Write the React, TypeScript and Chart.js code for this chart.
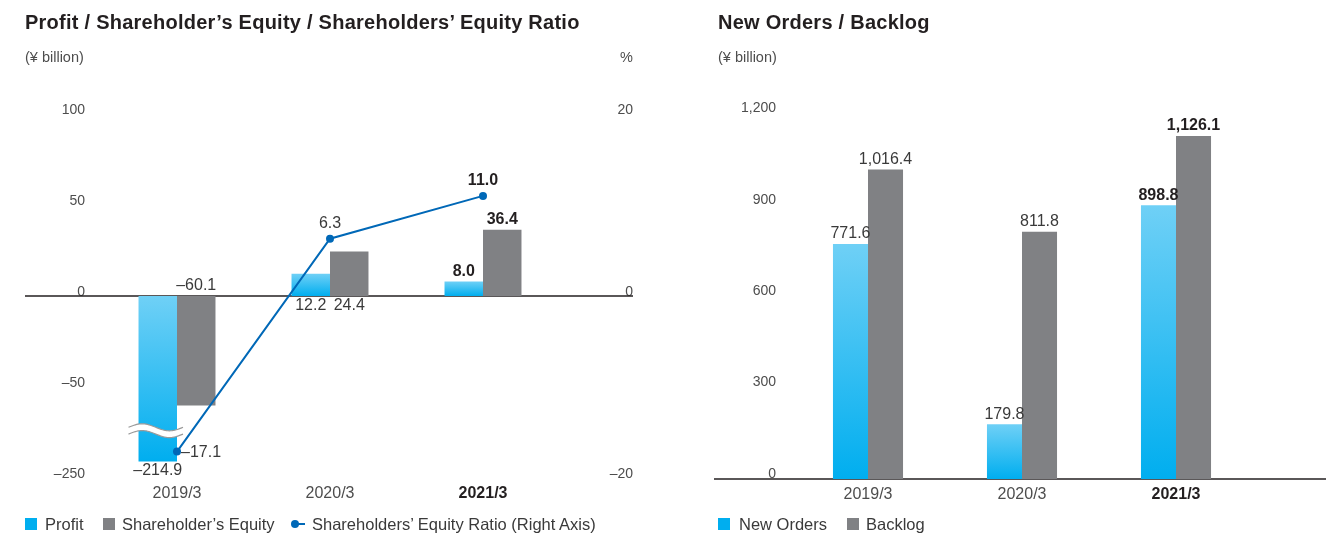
import React, { useEffect, useRef } from 'react';
import { Chart, registerables } from 'chart.js';

Chart.register(...registerables);

// ---------- data ----------
const YEARS = ['2019/3', '2020/3', '2021/3'];
const PROFIT = [-214.9, 12.2, 8.0];
const EQUITY = [-60.1, 24.4, 36.4];
const EQUITY_RATIO = [-17.1, 6.3, 11.0];
const NEW_ORDERS = [771.6, 179.8, 898.8];
const BACKLOG = [1016.4, 811.8, 1126.1];
const LEFT_TICKS = [100, 50, 0, -50, -250];
const RATIO_TICKS = [20, 0, -20];
const ORDER_TICKS = [1200, 900, 600, 300, 0];
const CURRENT_INDEX = 2;

// axis break on the left value axis: real values -250..-150 are compressed into the plotted band -100..-74
const BREAK = { realLow: -250, realHigh: -150, plotLow: -100, plotHigh: -74 };
const toPlot = (v: number) =>
  v >= BREAK.realHigh
    ? v
    : BREAK.plotLow + ((v - BREAK.realLow) * (BREAK.plotHigh - BREAK.plotLow)) / (BREAK.realHigh - BREAK.realLow);

// ---------- style ----------
const FONT = '"Liberation Sans", Arial, Helvetica, sans-serif';
const BLUE_TOP = '#6fd0f6';
const BLUE_BOTTOM = '#00aeef';
const GREY = '#808184';
const LINE = '#0068b7';
const TICK_COLOR = '#4d4d4d';
const LABEL_COLOR = '#3a3a3a';
const BOLD_COLOR = '#231f20';

const fmt = (v: number) =>
  (v < 0 ? '–' : '') + Math.abs(v).toLocaleString('en-US', { minimumFractionDigits: 1, maximumFractionDigits: 1 });
const fmtTick = (v: number) => (v < 0 ? '–' : '') + Math.abs(v).toLocaleString('en-US');

function blueGradient(c: any) {
  const chart = c.chart;
  if (!chart.chartArea || c.type !== 'data') return BLUE_BOTTOM;
  const yScale = chart.scales[c.dataset.yAxisID || 'y'];
  const v = c.raw as number;
  const y1 = yScale.getPixelForValue(v);
  const y0 = yScale.getPixelForValue(0);
  const top = Math.min(y0, y1);
  const bot = Math.max(y0, y1);
  if (!isFinite(top) || !isFinite(bot) || bot - top < 1) return BLUE_BOTTOM;
  const g = chart.ctx.createLinearGradient(0, top, 0, bot);
  g.addColorStop(0, BLUE_TOP);
  g.addColorStop(1, BLUE_BOTTOM);
  return g;
}

function drawText(ctx: CanvasRenderingContext2D, text: string, x: number, y: number, bold: boolean, align: CanvasTextAlign = 'center') {
  ctx.save();
  ctx.font = `${bold ? 'bold ' : ''}16px ${FONT}`;
  ctx.fillStyle = bold ? BOLD_COLOR : LABEL_COLOR;
  ctx.textAlign = align;
  ctx.textBaseline = 'middle';
  ctx.fillText(text, x, y);
  ctx.restore();
}

const tickFont = { family: FONT, size: 14 };
const xTickFont = (c: any) => ({ family: FONT, size: 16, weight: c.index === CURRENT_INDEX ? 'bold' : 'normal' });
const xTickColor = (c: any) => (c.index === CURRENT_INDEX ? BOLD_COLOR : TICK_COLOR);

// ---------- plugins ----------
const leftDecor = {
  id: 'leftDecor',
  beforeDatasetsDraw(chart: any) {
    const ctx = chart.ctx;
    const zy = chart.scales.y.getPixelForValue(0);
    ctx.save();
    ctx.strokeStyle = BOLD_COLOR;
    ctx.lineWidth = 1.5;
    ctx.beginPath();
    ctx.moveTo(25, zy);
    ctx.lineTo(633, zy);
    ctx.stroke();
    ctx.restore();
  },
  afterDatasetsDraw(chart: any) {
    const ctx = chart.ctx;
    const yS = chart.scales.y;
    const zy = yS.getPixelForValue(0);
    // axis-break squiggle on the profit bar
    const pel = chart.getDatasetMeta(1).data[0];
    if (pel) {
      const x0 = pel.x - pel.width / 2 - 10;
      const x1 = pel.x + pel.width / 2 + 6;
      const yc = yS.getPixelForValue(BREAK.plotHigh);
      const A = 3.5;
      const gap = 3.4;
      const curve = (off: number) => {
        const pts: [number, number][] = [];
        for (let i = 0; i <= 40; i++) {
          const t = i / 40;
          pts.push([x0 + t * (x1 - x0), yc + off - A * Math.sin(2 * Math.PI * t)]);
        }
        return pts;
      };
      const up = curve(-gap);
      const lo = curve(gap);
      ctx.save();
      ctx.fillStyle = '#ffffff';
      ctx.beginPath();
      up.forEach(([x, y], i) => (i ? ctx.lineTo(x, y) : ctx.moveTo(x, y)));
      for (let i = lo.length - 1; i >= 0; i--) ctx.lineTo(lo[i][0], lo[i][1]);
      ctx.closePath();
      ctx.fill();
      ctx.strokeStyle = '#9a9a9a';
      ctx.lineWidth = 1.2;
      [up, lo].forEach((pts) => {
        ctx.beginPath();
        pts.forEach(([x, y], i) => (i ? ctx.lineTo(x, y) : ctx.moveTo(x, y)));
        ctx.stroke();
      });
      ctx.restore();
    }
    const profitMeta = chart.getDatasetMeta(1);
    const equityMeta = chart.getDatasetMeta(2);
    const ratioMeta = chart.getDatasetMeta(0);
    PROFIT.forEach((v, i) => {
      const el = profitMeta.data[i];
      const bold = i === CURRENT_INDEX;
      let y;
      if (i === 0) y = el.y + 9;
      else if (i === 1) y = zy + 10;
      else y = el.y - 10;
      drawText(ctx, fmt(v), el.x, y, bold);
    });
    EQUITY.forEach((v, i) => {
      const el = equityMeta.data[i];
      const bold = i === CURRENT_INDEX;
      let y;
      if (i === 0) y = zy - 10;
      else if (i === 1) y = zy + 10;
      else y = el.y - 10;
      drawText(ctx, fmt(v), el.x, y, bold);
    });
    EQUITY_RATIO.forEach((v, i) => {
      const el = ratioMeta.data[i];
      const bold = i === CURRENT_INDEX;
      if (i === 0) drawText(ctx, fmt(v), el.x + 4, el.y + 1, bold, 'left');
      else drawText(ctx, fmt(v), el.x, el.y - 15, bold);
    });
  },
};

const rightDecor = {
  id: 'rightDecor',
  beforeDatasetsDraw(chart: any) {
    const ctx = chart.ctx;
    const zy = chart.scales.y.getPixelForValue(0);
    ctx.save();
    ctx.strokeStyle = BOLD_COLOR;
    ctx.lineWidth = 1.5;
    ctx.beginPath();
    ctx.moveTo(54, zy);
    ctx.lineTo(666, zy);
    ctx.stroke();
    ctx.restore();
  },
  afterDatasetsDraw(chart: any) {
    const ctx = chart.ctx;
    [NEW_ORDERS, BACKLOG].forEach((arr, d) => {
      const meta = chart.getDatasetMeta(d);
      arr.forEach((v, i) => {
        const el = meta.data[i];
        drawText(ctx, fmt(v), el.x, el.y - 10, i === CURRENT_INDEX);
      });
    });
  },
};

function leftConfig(): any {
  return {
    type: 'bar',
    data: {
      labels: YEARS,
      datasets: [
        {
          type: 'line',
          label: 'Shareholders’ Equity Ratio (Right Axis)',
          data: EQUITY_RATIO,
          yAxisID: 'y1',
          borderColor: LINE,
          backgroundColor: LINE,
          borderWidth: 2,
          pointRadius: 4,
          pointBackgroundColor: LINE,
          pointBorderWidth: 0,
          tension: 0,
          order: 0,
        },
        {
          label: 'Profit',
          data: PROFIT.map(toPlot),
          yAxisID: 'y',
          backgroundColor: blueGradient,
          categoryPercentage: 0.503,
          barPercentage: 1,
          order: 1,
        },
        {
          label: 'Shareholder’s Equity',
          data: EQUITY.map(toPlot),
          yAxisID: 'y',
          backgroundColor: GREY,
          categoryPercentage: 0.503,
          barPercentage: 1,
          order: 1,
        },
      ],
    },
    options: {
      responsive: false,
      animation: false,
      devicePixelRatio: 1,
      layout: { padding: { top: 114, right: 27, bottom: 0, left: 0 } },
      plugins: { legend: { display: false }, tooltip: { enabled: false } },
      scales: {
        x: {
          grid: { display: false, drawTicks: false },
          border: { display: false },
          ticks: { padding: 6, font: xTickFont, color: xTickColor },
          afterFit: (s: any) => {
            s.height = 57;
          },
        },
        y: {
          position: 'left',
          min: -100,
          max: 100,
          grid: { display: false, drawTicks: false },
          border: { display: false },
          afterBuildTicks: (s: any) => {
            s.ticks = LEFT_TICKS.map((v) => ({ value: toPlot(v) }));
          },
          ticks: {
            padding: 15.5,
            labelOffset: -4,
            color: TICK_COLOR,
            font: tickFont,
            callback: (_v: any, i: number) => fmtTick(LEFT_TICKS[i]),
          },
          afterFit: (s: any) => {
            s.width = 100.5;
          },
        },
        y1: {
          position: 'right',
          min: -20,
          max: 20,
          grid: { display: false, drawTicks: false },
          border: { display: false },
          afterBuildTicks: (s: any) => {
            s.ticks = RATIO_TICKS.map((v) => ({ value: v }));
          },
          ticks: {
            crossAlign: 'far',
            labelOffset: -4,
            color: TICK_COLOR,
            font: tickFont,
            callback: (v: any) => fmtTick(Number(v)),
          },
          afterFit: (s: any) => {
            s.width = 73.5;
          },
        },
      },
    },
    plugins: [leftDecor],
  };
}

function rightConfig(): any {
  return {
    type: 'bar',
    data: {
      labels: YEARS,
      datasets: [
        {
          label: 'New Orders',
          data: NEW_ORDERS,
          backgroundColor: blueGradient,
          categoryPercentage: 0.455,
          barPercentage: 1,
        },
        {
          label: 'Backlog',
          data: BACKLOG,
          backgroundColor: GREY,
          categoryPercentage: 0.455,
          barPercentage: 1,
        },
      ],
    },
    options: {
      responsive: false,
      animation: false,
      devicePixelRatio: 1,
      layout: { padding: { top: 113.5, right: 82, bottom: 0, left: 0 } },
      plugins: { legend: { display: false }, tooltip: { enabled: false } },
      scales: {
        x: {
          grid: { display: false, drawTicks: false },
          border: { display: false },
          ticks: { padding: 6, font: xTickFont, color: xTickColor },
          afterFit: (s: any) => {
            s.height = 56;
          },
        },
        y: {
          min: 0,
          max: 1200,
          grid: { display: false, drawTicks: false },
          border: { display: false },
          afterBuildTicks: (s: any) => {
            s.ticks = ORDER_TICKS.map((v) => ({ value: v }));
          },
          ticks: {
            padding: 15,
            labelOffset: -5,
            color: TICK_COLOR,
            font: tickFont,
            callback: (v: any) => fmtTick(Number(v)),
          },
          afterFit: (s: any) => {
            s.width = 131;
          },
        },
      },
    },
    plugins: [rightDecor],
  };
}

// ---------- overlay text ----------
const abs = (left: number, top: number, extra: React.CSSProperties = {}): React.CSSProperties => ({
  position: 'absolute',
  left,
  top,
  whiteSpace: 'nowrap',
  ...extra,
});

const titleStyle: React.CSSProperties = { fontSize: 20, fontWeight: 'bold', color: BOLD_COLOR, lineHeight: '24px', letterSpacing: '0.25px' };
const unitStyle: React.CSSProperties = { fontSize: 14.5, color: TICK_COLOR, lineHeight: '16px' };
const legendText: React.CSSProperties = { fontSize: 16.5, color: '#3a3a3a', lineHeight: '18px' };

function Square({ left, color }: { left: number; color: string }) {
  return <div style={abs(left, 518, { width: 12, height: 12, background: color })} />;
}

export default function App() {
  const leftRef = useRef<HTMLCanvasElement>(null);
  const rightRef = useRef<HTMLCanvasElement>(null);

  useEffect(() => {
    const left = new Chart(leftRef.current as HTMLCanvasElement, leftConfig());
    const right = new Chart(rightRef.current as HTMLCanvasElement, rightConfig());
    return () => {
      left.destroy();
      right.destroy();
    };
  }, []);

  return (
    <div
      style={{
        position: 'fixed',
        left: 0,
        top: 0,
        width: 1335,
        height: 535,
        background: '#ffffff',
        fontFamily: FONT,
        overflow: 'hidden',
      }}
    >
      <canvas ref={leftRef} width={660} height={535} style={{ position: 'absolute', left: 0, top: 0, width: 660, height: 535 }} />
      <canvas ref={rightRef} width={675} height={535} style={{ position: 'absolute', left: 660, top: 0, width: 675, height: 535 }} />

      <div style={abs(25, 10, titleStyle)}>Profit / Shareholder’s Equity / Shareholders’ Equity Ratio</div>
      <div style={abs(718, 10, titleStyle)}>New Orders / Backlog</div>

      <div style={abs(25, 49, unitStyle)}>(¥ billion)</div>
      <div style={abs(560, 49, { ...unitStyle, width: 73, textAlign: 'right' })}>%</div>
      <div style={abs(718, 49, unitStyle)}>(¥ billion)</div>

      {/* left legend */}
      <Square left={25} color={BLUE_BOTTOM} />
      <div style={abs(45, 515, legendText)}>Profit</div>
      <Square left={103} color={GREY} />
      <div style={abs(122, 515, legendText)}>Shareholder’s Equity</div>
      <div style={abs(292, 523, { width: 13, height: 2, background: LINE })} />
      <div style={abs(291, 520, { width: 8, height: 8, borderRadius: 4, background: LINE })} />
      <div style={abs(312, 515, legendText)}>Shareholders’ Equity Ratio (Right Axis)</div>

      {/* right legend */}
      <Square left={718} color={BLUE_BOTTOM} />
      <div style={abs(739, 515, legendText)}>New Orders</div>
      <Square left={847} color={GREY} />
      <div style={abs(866, 515, legendText)}>Backlog</div>
    </div>
  );
}
